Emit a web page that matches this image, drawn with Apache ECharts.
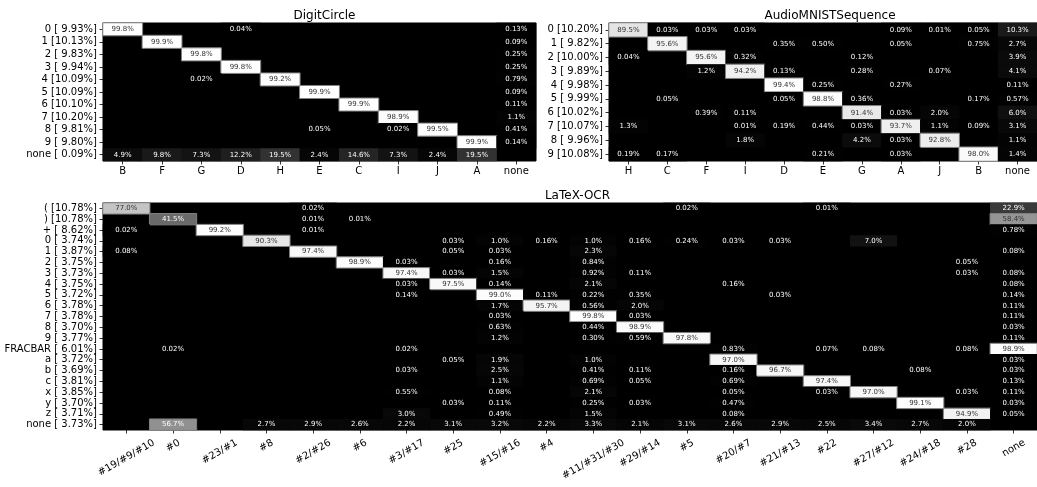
<!DOCTYPE html>
<html>
<head>
<meta charset="utf-8">
<script src="https://cdn.jsdelivr.net/npm/echarts@6/dist/echarts.min.js"></script>
<style>
  html, body { margin: 0; padding: 0; background: #fff; }
  #chart { width: 1037px; height: 487px; }
</style>
</head>
<body>
<div id="chart"></div>
<script>
const _ = null;

// ---- DigitCircle: rows = true digit, columns = assigned cluster ----
const digitCols = ['B', 'F', 'G', 'D', 'H', 'E', 'C', 'I', 'J', 'A', 'none'];
const digitRows = ['0 [ 9.93%]', '1 [10.13%]', '2 [ 9.83%]', '3 [ 9.94%]', '4 [10.09%]',
  '5 [10.09%]', '6 [10.10%]', '7 [10.20%]', '8 [ 9.81%]', '9 [ 9.80%]', 'none [ 0.09%]'];
const digitValues = [
  [99.8, _, _, 0.04, _, _, _, _, _, _, 0.13],
  [_, 99.9, _, _, _, _, _, _, _, _, 0.09],
  [_, _, 99.8, _, _, _, _, _, _, _, 0.25],
  [_, _, _, 99.8, _, _, _, _, _, _, 0.25],
  [_, _, 0.02, _, 99.2, _, _, _, _, _, 0.79],
  [_, _, _, _, _, 99.9, _, _, _, _, 0.09],
  [_, _, _, _, _, _, 99.9, _, _, _, 0.11],
  [_, _, _, _, _, _, _, 98.9, _, _, 1.1],
  [_, _, _, _, _, 0.05, _, 0.02, 99.5, _, 0.41],
  [_, _, _, _, _, _, _, _, _, 99.9, 0.14],
  [4.9, 9.8, 7.3, 12.2, 19.5, 2.4, 14.6, 7.3, 2.4, 19.5, _]
];

// ---- AudioMNISTSequence ----
const audioCols = ['H', 'C', 'F', 'I', 'D', 'E', 'G', 'A', 'J', 'B', 'none'];
const audioRows = ['0 [10.20%]', '1 [ 9.82%]', '2 [10.00%]', '3 [ 9.89%]', '4 [ 9.98%]',
  '5 [ 9.99%]', '6 [10.02%]', '7 [10.07%]', '8 [ 9.96%]', '9 [10.08%]'];
const audioValues = [
  [89.5, 0.03, 0.03, 0.03, _, _, _, 0.09, 0.01, 0.05, 10.3],
  [_, 95.6, _, _, 0.35, 0.50, _, 0.05, _, 0.75, 2.7],
  [0.04, _, 95.6, 0.32, _, _, 0.12, _, _, _, 3.9],
  [_, _, 1.2, 94.2, 0.13, _, 0.28, _, 0.07, _, 4.1],
  [_, _, _, _, 99.4, 0.25, _, 0.27, _, _, 0.11],
  [_, 0.05, _, _, 0.05, 98.8, 0.36, _, _, 0.17, 0.57],
  [_, _, 0.39, 0.11, _, _, 91.4, 0.03, 2.0, _, 6.0],
  [1.3, _, _, 0.01, 0.19, 0.44, 0.03, 93.7, 1.1, 0.09, 3.1],
  [_, _, _, 1.8, _, _, 4.2, 0.03, 92.8, _, 1.1],
  [0.19, 0.17, _, _, _, 0.21, _, 0.03, _, 98.0, 1.4]
];

// ---- LaTeX-OCR ----
const latexCols = ['#19/#9/#10', '#0', '#23/#1', '#8', '#2/#26', '#6', '#3/#17', '#25', '#15/#16', '#4',
  '#11/#31/#30', '#29/#14', '#5', '#20/#7', '#21/#13', '#22', '#27/#12', '#24/#18', '#28', 'none'];
const latexRows = ['( [10.78%]', ') [10.78%]', '+ [ 8.62%]', '0 [ 3.74%]', '1 [ 3.87%]', '2 [ 3.75%]',
  '3 [ 3.73%]', '4 [ 3.75%]', '5 [ 3.72%]', '6 [ 3.78%]', '7 [ 3.78%]', '8 [ 3.70%]', '9 [ 3.77%]',
  'FRACBAR [ 6.01%]', 'a [ 3.72%]', 'b [ 3.69%]', 'c [ 3.81%]', 'x [ 3.85%]', 'y [ 3.70%]',
  'z [ 3.71%]', 'none [ 3.73%]'];
const latexValues = [
  //  0     1     2     3     4     5     6     7     8     9    10    11    12    13    14    15    16    17    18    19
  [77.0, _,    _,    _,    0.02, _,    _,    _,    _,    _,    _,    _,    0.02, _,    _,    0.01, _,    _,    _,    22.9],
  [_,    41.5, _,    _,    0.01, 0.01, _,    _,    _,    _,    _,    _,    _,    _,    _,    _,    _,    _,    _,    58.4],
  [0.02, _,    99.2, _,    0.01, _,    _,    _,    _,    _,    _,    _,    _,    _,    _,    _,    _,    _,    _,    0.78],
  [_,    _,    _,    90.3, _,    _,    _,    0.03, 1.0,  0.16, 1.0,  0.16, 0.24, 0.03, 0.03, _,    7.0,  _,    _,    _],
  [0.08, _,    _,    _,    97.4, _,    _,    0.05, 0.03, _,    2.3,  _,    _,    _,    _,    _,    _,    _,    _,    0.08],
  [_,    _,    _,    _,    _,    98.9, 0.03, _,    0.16, _,    0.84, _,    _,    _,    _,    _,    _,    _,    0.05, _],
  [_,    _,    _,    _,    _,    _,    97.4, 0.03, 1.5,  _,    0.92, 0.11, _,    _,    _,    _,    _,    _,    0.03, 0.08],
  [_,    _,    _,    _,    _,    _,    0.03, 97.5, 0.14, _,    2.1,  _,    _,    0.16, _,    _,    _,    _,    _,    0.08],
  [_,    _,    _,    _,    _,    _,    0.14, _,    99.0, 0.11, 0.22, 0.35, _,    _,    0.03, _,    _,    _,    _,    0.14],
  [_,    _,    _,    _,    _,    _,    _,    _,    1.7,  95.7, 0.56, 2.0,  _,    _,    _,    _,    _,    _,    _,    0.11],
  [_,    _,    _,    _,    _,    _,    _,    _,    0.03, _,    99.8, 0.03, _,    _,    _,    _,    _,    _,    _,    0.11],
  [_,    _,    _,    _,    _,    _,    _,    _,    0.63, _,    0.44, 98.9, _,    _,    _,    _,    _,    _,    _,    0.03],
  [_,    _,    _,    _,    _,    _,    _,    _,    1.2,  _,    0.30, 0.59, 97.8, _,    _,    _,    _,    _,    _,    0.11],
  [_,    0.02, _,    _,    _,    _,    0.02, _,    _,    _,    _,    _,    _,    0.83, _,    0.07, 0.08, _,    0.08, 98.9],
  [_,    _,    _,    _,    _,    _,    _,    0.05, 1.9,  _,    1.0,  _,    _,    97.0, _,    _,    _,    _,    _,    0.03],
  [_,    _,    _,    _,    _,    _,    0.03, _,    2.5,  _,    0.41, 0.11, _,    0.16, 96.7, _,    _,    0.08, _,    0.03],
  [_,    _,    _,    _,    _,    _,    _,    _,    1.1,  _,    0.69, 0.05, _,    0.69, _,    97.4, _,    _,    _,    0.13],
  [_,    _,    _,    _,    _,    _,    0.55, _,    0.08, _,    2.1,  _,    _,    0.05, _,    0.03, 97.0, _,    0.03, 0.11],
  [_,    _,    _,    _,    _,    _,    _,    0.03, 0.11, _,    0.25, 0.03, _,    0.47, _,    _,    _,    99.1, _,    0.03],
  [_,    _,    _,    _,    _,    _,    3.0,  _,    0.49, _,    1.5,  _,    _,    0.08, _,    _,    _,    _,    94.9, 0.05],
  [_,    56.7, _,    2.7,  2.9,  2.6,  2.2,  3.1,  3.2,  2.2,  3.3,  2.1,  3.1,  2.6,  2.9,  2.5,  3.4,  2.7,  2.0,  _]
];

const FONT = 'DejaVu Sans';
const ROT = 30; // degrees for the LaTeX-OCR column names

function pct(v) {
  return (v < 1 ? v.toFixed(2) : v.toFixed(1)) + '%';
}

// Turn a row-major matrix into heatmap items [col, row, value]
function cells(matrix) {
  const out = [];
  matrix.forEach((row, r) => row.forEach((v, c) => {
    if (v == null) return;
    const item = { value: [c, r, v], label: { color: v > 57 ? '#333' : '#fff' } };
    if (v >= 40) item.itemStyle = { borderColor: '#808080', borderWidth: 1 };
    out.push(item);
  }));
  return out;
}

function xAxisOf(gridIndex, data, showLabel) {
  return {
    gridIndex, type: 'category', data, position: 'bottom',
    axisLine: { show: false },
    axisTick: { show: true, interval: 0, alignWithLabel: true, length: 3.5, lineStyle: { color: '#000', width: 0.8 } },
    axisLabel: { show: showLabel, interval: 0, fontSize: 10, color: '#000', fontFamily: FONT, margin: 5 },
    splitLine: { show: false }
  };
}

function yAxisOf(gridIndex, data) {
  return {
    gridIndex, type: 'category', data, inverse: true,
    axisLine: { show: false },
    axisTick: { show: true, interval: 0, alignWithLabel: true, length: 3.5, lineStyle: { color: '#000', width: 0.8 } },
    axisLabel: { interval: 0, fontSize: 10, color: '#000', fontFamily: FONT, margin: 6 },
    splitLine: { show: false }
  };
}

function heat(idx, matrix) {
  return {
    type: 'heatmap', xAxisIndex: idx, yAxisIndex: idx,
    data: cells(matrix),
    label: {
      show: true, fontSize: 7, fontFamily: FONT,
      formatter: p => pct(p.value[2])
    },
    emphasis: { disabled: true }
  };
}

const gridBase = { show: true, backgroundColor: '#000', borderColor: '#000', borderWidth: 1 };
const titleStyle = { fontSize: 12, fontWeight: 'normal', color: '#000', fontFamily: FONT };

const chart = echarts.init(document.getElementById('chart'), null, { renderer: 'canvas' });
chart.setOption({
  animation: false,
  backgroundColor: '#fff',
  title: [
    { text: 'DigitCircle', left: 319.5, top: 5, textAlign: 'center', textStyle: titleStyle },
    { text: 'AudioMNISTSequence', left: 825, top: 5, textAlign: 'center', textStyle: titleStyle },
    { text: 'LaTeX-OCR', left: 572.5, top: 185, textAlign: 'center', textStyle: titleStyle }
  ],
  grid: [
    Object.assign({ left: 103, top: 23, width: 433, height: 138 }, gridBase),
    Object.assign({ left: 609, top: 23, width: 432, height: 138 }, gridBase),
    Object.assign({ left: 103, top: 203, width: 939, height: 227 }, gridBase)
  ],
  xAxis: [xAxisOf(0, digitCols, true), xAxisOf(1, audioCols, true), xAxisOf(2, latexCols, false)],
  yAxis: [yAxisOf(0, digitRows), yAxisOf(1, audioRows), yAxisOf(2, latexRows)],
  visualMap: {
    show: false, type: 'continuous', min: 0, max: 100, dimension: 2,
    seriesIndex: [0, 1, 2],
    inRange: { color: ['#000000', '#ffffff'] }
  },
  series: [heat(0, digitValues), heat(1, audioValues), heat(2, latexValues)]
});

// Rotated column names under the LaTeX-OCR map: each label's rotated box is
// centred on its tick and hangs just below the tick marks.
(function placeRotatedLabels() {
  const ctx = document.createElement('canvas').getContext('2d');
  ctx.font = '10px "' + FONT + '"';
  const n = latexRows.length;
  const yLast = chart.convertToPixel({ yAxisIndex: 2 }, latexRows[n - 1]);
  const yPrev = chart.convertToPixel({ yAxisIndex: 2 }, latexRows[n - 2]);
  const axisBottom = yLast + (yLast - yPrev) / 2;
  const top = axisBottom + 3.5 + 3.5;
  const a = ROT * Math.PI / 180;
  const h = 11.6;
  const elements = latexCols.map(name => {
    const x = chart.convertToPixel({ xAxisIndex: 2 }, name);
    const w = ctx.measureText(name).width;
    const boxH = w * Math.sin(a) + h * Math.cos(a);
    return {
      type: 'text', x: x, y: top + boxH / 2, rotation: a, silent: true,
      style: {
        text: name, fill: '#000', fontSize: 10, fontFamily: FONT,
        align: 'center', verticalAlign: 'middle',
        textAlign: 'center', textVerticalAlign: 'middle'
      }
    };
  });
  chart.setOption({ graphic: { elements } });
})();
</script>
</body>
</html>
